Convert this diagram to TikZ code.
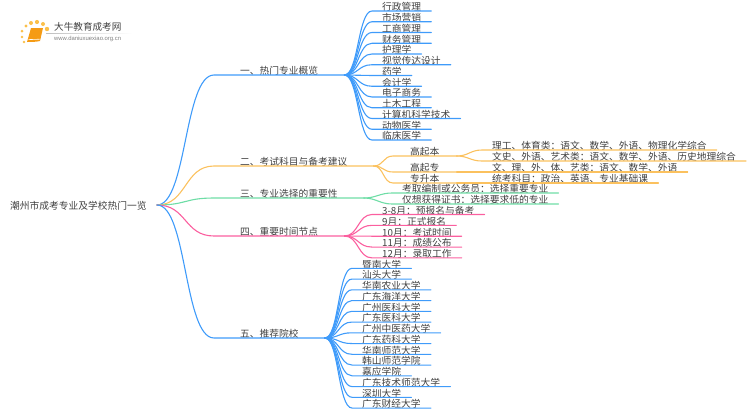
\documentclass[tikz,border=0pt]{standalone}
\usepackage{fontspec}
\setmainfont{Noto Sans CJK SC}
\newfontfamily\urlfont{Liberation Sans}
\usetikzlibrary{fadings}

\definecolor{lineBlue}{HTML}{3F9BFA}
\definecolor{lineOrange}{HTML}{FBC15E}
\definecolor{lineGreen}{HTML}{6EDDA6}
\definecolor{linePink}{HTML}{FB5F9F}
\definecolor{textGray}{HTML}{404040}
\definecolor{logoOrange}{HTML}{F59B14}
\definecolor{logoYellow}{HTML}{FBC04A}

\tikzset{
	caption/.style={font=\fontsize{9.75}{11}\selectfont, text=textGray, anchor=south west, inner ysep=0, text height=8, text depth=0},
	rootnode/.style={caption, inner xsep=0, anchor=west},
	branch/.style={caption, inner xsep=26},
	sub/.style={caption, inner xsep=17},
	leaf/.style={caption, inner xsep=10},
	wire/.style={line width=1.1, line cap=round},
	logodot/.style={circle, fill=logoYellow, inner sep=0}
}

\begin{document}
\begin{tikzpicture}[x=1pt, y=-1pt]
	\useasboundingbox (0,0) rectangle (750,410);

	% logo
	\foreach \i/\dx/\dy/\rad in {1/24/42/1.3, 2/22/37/1.3, 3/22/31/1.5, 4/26/26/1.7, 5/31/23/2, 6/37/22/2.1, 7/43/24/2, 8/47/29/2.2} {
		\node [logodot, minimum size=2*\rad] (dot\i) at (\dx,\dy) {};
	}
	\fill [logoOrange] (31,28) -- (43,28) -- (40,41) .. controls (36,42) and (31,42) .. (27,42) -- cycle;
	\draw [white, line width=0.6] (28.5,39.6) -- (39.6,39.2);
	\node [font=\fontsize{9.6}{11}\selectfont, text=textGray, inner sep=0, anchor=west] (logotitle) at (54,27) {大牛教育成考网};
	\node [font=\urlfont\fontsize{5.9}{7}\selectfont, text=gray, inner sep=0, anchor=west] (logourl) at (54,38.5) {www.daniuxuexiao.org.cn};
	\fill [lightgray, path fading=east] (46,33.2) rectangle (132,33.9);

	\node [rootnode] (root) at (10,205) {潮州市成考专业及学校热门一览};
	\coordinate (rootEnd) at (157,205);

	% one
	\begin{scope}[lineBlue]
		\node [branch] (hot) at (214,75) {一、热门专业概览};
		\draw [wire] (rootEnd) .. controls +(30,0) and +(-30,0) .. (hot.south west) -- (hot.south east);
		\foreach \txt [count=\i] in {行政管理, 市场营销, 工商管理, 财务管理, 护理学, 视觉传达设计, 药学, 会计学, 电子商务, 土木工程, 计算机科学技术, 动物医学, 临床医学} {
			\node [leaf] (hot\i) at (372,{11+(\i-1)*10.75}) {\txt};
			\draw [wire] (hot.south east) .. controls +(14,0) and +(-14,0) .. (hot\i.south west) -- (hot\i.south east);
		}
	\end{scope}

	% two
	\begin{scope}[lineOrange]
		\node [branch] (exam) at (214,166) {二、考试科目与备考建议};
		\draw [wire] (rootEnd) .. controls +(30,0) and +(-30,0) .. (exam.south west) -- (exam.south east);

		\node [sub] (upBen) at (393,156) {高起本};
		\node [sub] (upZhuan) at (393,172) {高起专};
		\node [sub] (zhuanBen) at (393,183) {专升本};
		\foreach \s in {upBen, upZhuan, zhuanBen} {
			\draw [wire] (exam.south east) .. controls +(10,0) and +(-10,0) .. (\s.south west) -- (\s.south east);
		}

		\node [leaf] (science) at (482,150) {理工、体育类：语文、数学、外语、物理化学综合};
		\node [leaf] (arts) at (482,161) {文史、外语、艺术类：语文、数学、外语、历史地理综合};
		\foreach \s in {science, arts} {
			\draw [wire] (upBen.south east) .. controls +(12,0) and +(-12,0) .. (\s.south west) -- (\s.south east);
		}

		\node [leaf] (zhuanSubj) at (482,172) {文、理、外、体、艺类：语文、数学、外语};
		\draw [wire] (upZhuan.south east) -- (zhuanSubj.south west) -- (zhuanSubj.south east);
		\node [leaf] (benSubj) at (482,183) {统考科目：政治、英语、专业基础课};
		\draw [wire] (zhuanBen.south east) -- (benSubj.south west) -- (benSubj.south east);
	\end{scope}

	% three
	\begin{scope}[lineGreen]
		\node [branch] (choice) at (214,198) {三、专业选择的重要性};
		\draw [wire] (rootEnd) .. controls +(30,0) and +(-30,0) .. (choice.south west) -- (choice.south east);
		\node [leaf] (civil) at (392,193) {考取编制或公务员：选择重要专业};
		\node [leaf] (cert) at (392,204) {仅想获得证书：选择要求低的专业};
		\foreach \s in {civil, cert} {
			\draw [wire] (choice.south east) .. controls +(12,0) and +(-12,0) .. (\s.south west) -- (\s.south east);
		}
	\end{scope}

	% four
	\begin{scope}[linePink]
		\node [branch] (dates) at (214,236) {四、重要时间节点};
		\draw [wire] (rootEnd) .. controls +(30,0) and +(-30,0) .. (dates.south west) -- (dates.south east);
		\foreach \txt [count=\i] in {3-8月：预报名与备考, 9月：正式报名, 10月：考试时间, 11月：成绩公布, 12月：录取工作} {
			\node [leaf] (dates\i) at (372,{214.5+(\i-1)*10.85}) {\txt};
			\draw [wire] (dates.south east) .. controls +(14,0) and +(-14,0) .. (dates\i.south west) -- (dates\i.south east);
		}
	\end{scope}

	% five
	\begin{scope}[lineBlue]
		\node [branch] (schools) at (214,338) {五、推荐院校};
		\draw [wire] (rootEnd) .. controls +(30,0) and +(-30,0) .. (schools.south west) -- (schools.south east);
		\foreach \txt [count=\i] in {暨南大学, 汕头大学, 华南农业大学, 广东海洋大学, 广州医科大学, 广东医科大学, 广州中医药大学, 广东药科大学, 华南师范大学, 韩山师范学院, 嘉应学院, 广东技术师范大学, 深圳大学, 广东财经大学} {
			\node [leaf] (schools\i) at (352,{268.3+(\i-1)*10.75}) {\txt};
			\draw [wire] (schools.south east) .. controls +(14,0) and +(-14,0) .. (schools\i.south west) -- (schools\i.south east);
		}
	\end{scope}
\end{tikzpicture}
\end{document}
